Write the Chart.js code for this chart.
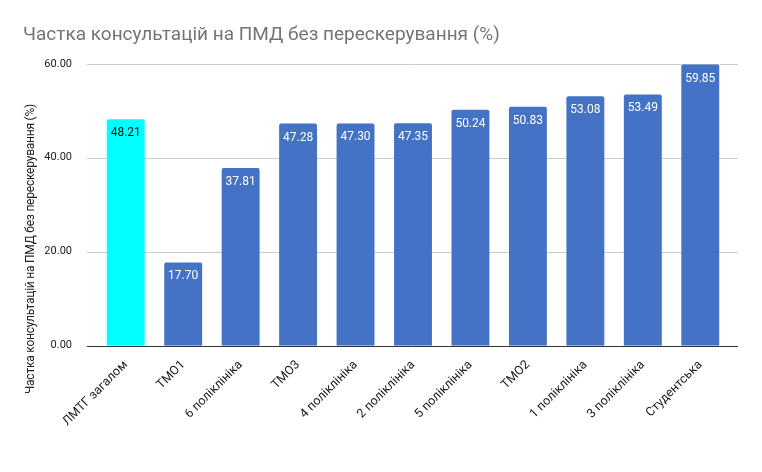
<!DOCTYPE html>
<html>
<head>
<meta charset="utf-8">
<script src="https://cdn.jsdelivr.net/npm/chart.js@4"></script>
<style>
    html, body { margin: 0; padding: 0; background: #fff; }
    #wrap { width: 762px; height: 472px; }
</style>
</head>
<body>
<div id="wrap"><canvas id="myChart" width="762" height="472"></canvas></div>
<script>
const categories = [
    "ЛМТГ загалом",
    "ТМО1",
    "6 поліклініка",
    "ТМО3",
    "4 поліклініка",
    "2 поліклініка",
    "5 поліклініка",
    "ТМО2",
    "1 поліклініка",
    "3 поліклініка",
    "Студентська",
]
const values = [48.21, 17.70, 37.81, 47.28, 47.30, 47.35, 50.24, 50.83, 53.08, 53.49, 59.85]
const barColors = ["#00FFFF", "#4472C4", "#4472C4", "#4472C4", "#4472C4", "#4472C4",
    "#4472C4", "#4472C4", "#4472C4", "#4472C4", "#4472C4"]
const labelColors = ["#111111", "#FFFFFF", "#FFFFFF", "#FFFFFF", "#FFFFFF", "#FFFFFF",
    "#FFFFFF", "#FFFFFF", "#FFFFFF", "#FFFFFF", "#FFFFFF"]
const yTicks = [0, 20, 40, 60]
const yTitle = 'Частка консультацій на ПМД без перескерування (%)'

// gridlines a bit wider than the bar area, like the sheets chart
const wideGrid = {
    id: 'wideGrid',
    beforeDatasetsDraw(chart) {
        const ctx = chart.ctx;
        const area = chart.chartArea;
        const y = chart.scales.y;
        ctx.save();
        ctx.lineWidth = 1;
        yTicks.forEach(function (v) {
            const py = Math.round(y.getPixelForValue(v)) + 0.5;
            ctx.strokeStyle = v === 0 ? '#333333' : '#cccccc';
            ctx.beginPath();
            ctx.moveTo(area.left - 10, py);
            ctx.lineTo(area.right + 9, py);
            ctx.stroke();
        });
        ctx.restore();
    },
    afterDraw(chart) {
        // y axis title, centred on the whole chart height
        const ctx = chart.ctx;
        ctx.save();
        ctx.translate(31, 249);
        ctx.rotate(-Math.PI / 2);
        ctx.font = '12px Roboto';
        const w = ctx.measureText(yTitle).width;
        ctx.letterSpacing = ((290 - w) / yTitle.length).toFixed(2) + 'px';
        ctx.fillStyle = '#222222';
        ctx.textAlign = 'center';
        ctx.textBaseline = 'middle';
        ctx.fillText(yTitle, 0, 0);
        ctx.restore();
    }
}

// draws the value inside the top of each bar
const valueLabels = {
    id: 'valueLabels',
    afterDatasetsDraw(chart) {
        const ctx = chart.ctx;
        const meta = chart.getDatasetMeta(0);
        ctx.save();
        ctx.font = '12px Roboto';
        ctx.textAlign = 'center';
        ctx.textBaseline = 'top';
        meta.data.forEach(function (bar, i) {
            ctx.fillStyle = labelColors[i];
            ctx.fillText(values[i].toFixed(2), bar.x, bar.y + 8);
        });
        ctx.restore();
    }
}

Chart.defaults.font.family = 'Roboto';

var ctx = document.getElementById('myChart').getContext('2d');
var myChart = new Chart(ctx, {
    type: 'bar',
    data: {
        labels: categories,
        datasets: [{
            data: values,
            backgroundColor: barColors,
            borderRadius: 2,
            borderSkipped: 'bottom',
            categoryPercentage: 1,
            barPercentage: 0.66,
        }]
    },
    options: {
        responsive: false,
        animation: false,
        devicePixelRatio: 1,
        layout: { padding: { left: 23, right: 33, top: 15, bottom: 39 } },
        plugins: {
            legend: { display: false },
            tooltip: { enabled: false },
            title: {
                display: true,
                text: 'Частка консультацій на ПМД без перескерування (%)',
                align: 'start',
                color: '#757575',
                font: { size: 19, weight: 'normal', family: 'Roboto' },
                padding: { top: 9, bottom: 17 },
            },
        },
        scales: {
            x: {
                grid: { display: false },
                border: { display: false },
                ticks: {
                    color: '#222222',
                    font: { size: 12.5 },
                    maxRotation: 45,
                    minRotation: 45,
                    autoSkip: false,
                    padding: 4,
                },
            },
            y: {
                min: 0,
                max: 60,
                afterBuildTicks(axis) {
                    axis.ticks = yTicks.map(function (v) { return { value: v }; });
                },
                afterFit(axis) {
                    axis.width = 74;
                },
                grid: { display: false },
                border: { display: false },
                ticks: {
                    color: '#222222',
                    font: { size: 11 },
                    padding: 17,
                    callback: function (v) { return Number(v).toFixed(2); },
                },
            },
        },
    },
    plugins: [wideGrid, valueLabels],
});
</script>
</body>
</html>
